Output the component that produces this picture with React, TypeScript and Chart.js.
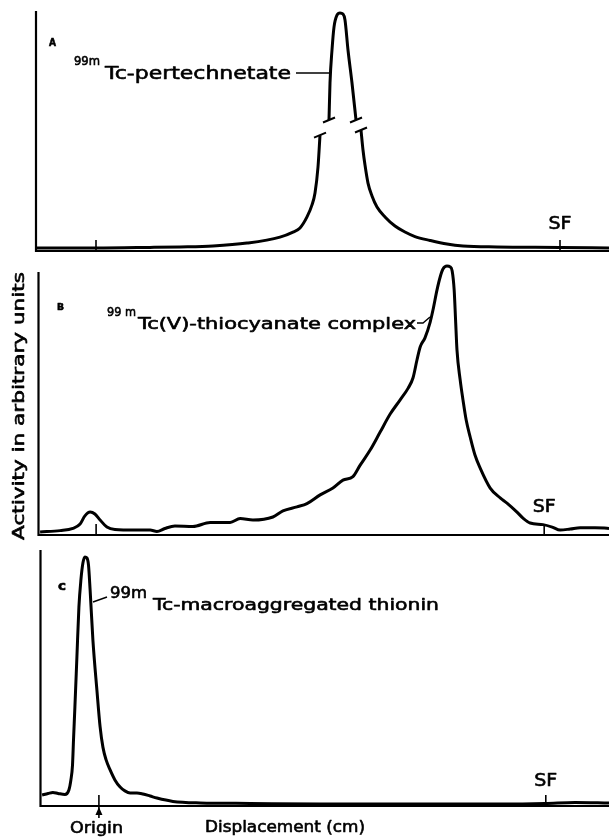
import React, { useEffect, useRef } from "react";
import { Chart, registerables } from "chart.js";

Chart.register(...registerables);

// ---------- DATA (displacement units along strip, activity 0-100 arbitrary) ----------
// Panel A: 99mTc-pertechnetate (null = broken axis gap)
const aX = [0.25, 15, 28.5, 36, 44.25, 52.75, 61, 64.25, 66, 67.75, 69, 69.75, 70.5, 71,
  72,
  73.25, 73.5, 74, 74.5, 75.25, 76, 76.75, 77.25, 78, 79, 80,
  80.6,
  81.25, 81.75, 82.25, 83, 84, 85.25, 87.25, 89.75, 92.25, 94.75, 98.5, 102.75, 106.75, 115.25, 131, 143.25];
const aY = [1.25, 1.25, 1.5, 1.7, 2.1, 3.3, 5.8, 7.9, 9.6, 14.2, 19.2, 24.2, 35, 48.3,
  null,
  54.6, 70, 83.75, 93.3, 98.3, 99.2, 98.75, 96.25, 83.75, 70, 54.6,
  null,
  50.4, 42.1, 35.8, 28.3, 22.9, 18.3, 14.2, 10.4, 7.9, 6, 4.4, 2.9, 2.1, 1.7, 1.5, 1.25];
const aBreaks = [[71, 48.3], [73.25, 54.6], [80, 54.6], [81.25, 50.4]];
const aOrigin = 15;
const aSF = 131;

// Panel B: 99mTc(V)-thiocyanate complex
const bX = [0.4, 5.4, 8.6, 10.4, 11.6, 12.9, 14.1, 15.4, 17.1, 19.1, 24.1, 27.9, 29.6, 31.6, 34.1, 38.6,
  42.9, 47.9, 50.4, 53.6, 58.6, 61.1, 64.6, 67.1, 70.4, 73.6, 76.1, 78.6, 80.4, 82.9, 85.4, 87.9,
  90.4, 92.4, 93.6, 94.6, 95.4, 96.6, 97.9, 98.6, 99.6, 100.4, 101.1, 102.1, 102.9, 103.4, 103.9,
  104.25, 104.6, 105.4, 106.1, 106.9, 107.9, 109.1, 110.4, 112.9, 115.4, 117.1, 119.6, 121.1,
  122.9, 126.1, 128.4, 130.4, 132.9, 135.4, 139.1, 142.6];
const bY = [1.1, 1.6, 2.4, 4.0, 7.0, 8.4, 7.7, 5.5, 2.9, 2.0, 1.8, 1.8, 1.3, 2.4, 3.3, 3.1,
  4.6, 4.6, 6.0, 5.5, 6.6, 8.8, 10.3, 11.5, 14.7, 17.2, 20.1, 21.4, 25.6, 31.1, 37.7, 44.3,
  49.5, 53.8, 57.5, 64.1, 68.9, 72.2, 78.0, 82.4, 89.7, 94.5, 97.4, 98.5, 98.2, 96.7, 89.7,
  78.8, 67.8, 56.8, 49.5, 42.1, 35.9, 29.3, 24.5, 17.2, 13.6, 11.7, 8.4, 6.2,
  4.4, 3.8, 2.9, 1.8, 2.2, 2.7, 2.7, 2.4];
const bOrigin = 14.4;
const bSF = 126.4;

// Panel C: 99mTc-macroaggregated thionin
const cX = [0.4, 1.9, 3.1, 4.4, 6.1, 7.1, 7.6, 8.0, 8.25, 8.6, 9.1, 9.6, 10.1, 10.6, 11.1, 11.6, 12.0,
  12.4, 13.1, 14.1, 14.9, 15.6, 16.4, 17.4, 18.6, 19.9, 21.1, 22.4, 24.1, 25.6, 27.4, 29.1, 33.1,
  39.9, 52.4, 69.9, 94.9, 114.9, 126.1, 133.6, 142.1];
const cY = [4.3, 4.9, 5.3, 4.9, 4.5, 6.25, 10.2, 16.0, 25.8, 38.7, 58.2, 77.7, 88.3, 94.9, 97.3, 96.9, 94.1,
  84.4, 64.8, 45.3, 30.9, 23.0, 18.0, 14.1, 10.2, 7.4, 5.9, 5.1, 5.1, 4.7, 3.9, 3.1, 1.8,
  1.2, 1.0, 0.8, 0.8, 0.8, 1.0, 1.4, 1.2];
const cOrigin = 14.6;
const cSF = 126.3;

// ---------- LAYOUT / STYLE ----------
const W = 609;
const H = 838;
const FONT = '"DejaVu Sans", "Liberation Sans", sans-serif';

type Label = { text: string; x: number; y: number; w: number; size: number; bold?: boolean; center?: boolean; rot?: boolean };

function fitText(ctx: CanvasRenderingContext2D, l: Label) {
  ctx.save();
  ctx.font = `${l.bold ? "bold " : ""}${l.size}px ${FONT}`;
  ctx.textBaseline = "middle";
  ctx.textAlign = "left";
  ctx.fillStyle = "#000";
  ctx.strokeStyle = "#000";
  ctx.lineWidth = 0.6;
  ctx.lineJoin = "round";
  const m = ctx.measureText(l.text).width;
  const s = l.w / m;
  if (l.rot) {
    ctx.translate(l.x, l.y);
    ctx.rotate(-Math.PI / 2);
    ctx.scale(s, 1);
    ctx.fillText(l.text, -m / 2, 0);
    ctx.strokeText(l.text, -m / 2, 0);
  } else {
    const left = l.center ? l.x - l.w / 2 : l.x;
    ctx.translate(left, l.y);
    ctx.scale(s, 1);
    ctx.fillText(l.text, 0, 0);
    ctx.strokeText(l.text, 0, 0);
  }
  ctx.restore();
}

type Panel = {
  x: number[];
  y: (number | null)[];
  xMax: number;
  axisTop: number;
  pad: { left: number; top: number; right: number; bottom: number };
  origin: number;
  originArrow?: boolean;
  sf: number;
  sfLabelY: number;
  breaks?: number[][];
  labels: Label[];
  leader: number[][];
};

const panels: Panel[] = [
  {
    x: aX, y: aY, xMax: 143.25, axisTop: 100,
    pad: { left: 36, top: 11, right: 0, bottom: H - 251 },
    origin: aOrigin, sf: aSF, sfLabelY: 225, breaks: aBreaks,
    labels: [
      { text: "A", x: 49, y: 43, w: 7, size: 10, bold: true },
      { text: "99m", x: 74, y: 62, w: 26, size: 12 },
      { text: "Tc-pertechnetate", x: 105, y: 74, w: 186, size: 18 },
    ],
    leader: [[296, 73], [330, 73]],
  },
  {
    x: bX, y: bY, xMax: 142.6, axisTop: 96.3,
    pad: { left: 38.5, top: 262, right: 0, bottom: H - 535 },
    origin: bOrigin, sf: bSF, sfLabelY: 508,
    labels: [
      { text: "B", x: 57, y: 308, w: 7, size: 9, bold: true },
      { text: "99 m", x: 107, y: 313, w: 29, size: 13 },
      { text: "Tc(V)-thiocyanate complex", x: 138, y: 325, w: 278, size: 16 },
      { text: "Activity in arbitrary units", x: 20, y: 406, w: 268, size: 16, rot: true },
    ],
    leader: [[417, 323], [423, 323], [430, 317]],
  },
  {
    x: cX, y: cY, xMax: 142.1, axisTop: 100,
    pad: { left: 40.5, top: 550, right: 0, bottom: H - 806 },
    origin: cOrigin, originArrow: true, sf: cSF, sfLabelY: 782,
    labels: [
      { text: "c", x: 58, y: 587, w: 8, size: 13, bold: true },
      { text: "99m", x: 110, y: 594, w: 37, size: 15 },
      { text: "Tc-macroaggregated thionin", x: 153, y: 606, w: 286, size: 16 },
      { text: "Origin", x: 70, y: 829, w: 53, size: 16 },
      { text: "Displacement (cm)", x: 205, y: 828, w: 160, size: 16 },
    ],
    leader: [[93, 602], [107, 597]],
  },
];

function makeDecor(p: Panel) {
  return {
    id: "decor",
    beforeDatasetsDraw(chart: any) {
      const { ctx, chartArea } = chart;
      const ys = chart.scales.y;
      const y0 = ys.getPixelForValue(0);
      ctx.save();
      ctx.strokeStyle = "#000";
      ctx.lineWidth = 2.2;
      ctx.beginPath();
      ctx.moveTo(chartArea.left, ys.getPixelForValue(p.axisTop));
      ctx.lineTo(chartArea.left, y0);
      ctx.lineTo(chartArea.right, y0);
      ctx.stroke();
      ctx.restore();
    },
    afterDatasetsDraw(chart: any) {
      const { ctx } = chart;
      const xs = chart.scales.x;
      const ys = chart.scales.y;
      const y0 = ys.getPixelForValue(0);
      ctx.save();
      ctx.strokeStyle = "#000";
      ctx.fillStyle = "#000";
      // origin tick
      const ox = xs.getPixelForValue(p.origin);
      ctx.lineWidth = 1.6;
      ctx.beginPath();
      ctx.moveTo(ox, y0 - 11);
      ctx.lineTo(ox, p.originArrow ? y0 + 12 : y0);
      ctx.stroke();
      if (p.originArrow) {
        ctx.beginPath();
        ctx.moveTo(ox, y0 + 1);
        ctx.lineTo(ox - 3.5, y0 + 9);
        ctx.lineTo(ox + 3.5, y0 + 9);
        ctx.closePath();
        ctx.fill();
      }
      // SF tick
      const sx = xs.getPixelForValue(p.sf);
      ctx.beginPath();
      ctx.moveTo(sx, y0 - 11);
      ctx.lineTo(sx, y0);
      ctx.stroke();
      fitText(ctx, { text: "SF", x: sx, y: p.sfLabelY, w: 23, size: 17, center: true });
      // break marks
      if (p.breaks) {
        ctx.lineWidth = 2;
        for (const [bx, by] of p.breaks) {
          const px = xs.getPixelForValue(bx);
          const py = ys.getPixelForValue(by);
          ctx.beginPath();
          ctx.moveTo(px - 6, py + 2.5);
          ctx.lineTo(px + 6, py - 2.5);
          ctx.stroke();
        }
      }
      // leader line
      ctx.lineWidth = 1.4;
      ctx.beginPath();
      p.leader.forEach(([lx, ly], i) => (i === 0 ? ctx.moveTo(lx, ly) : ctx.lineTo(lx, ly)));
      ctx.stroke();
      // labels
      for (const l of p.labels) fitText(ctx, l);
      ctx.restore();
    },
  };
}

function PanelChart({ p }: { p: Panel }) {
  const ref = useRef<HTMLCanvasElement | null>(null);
  useEffect(() => {
    if (!ref.current) return;
    const chart = new Chart(ref.current, {
      type: "line",
      data: {
        datasets: [
          {
            data: p.x.map((x, i) => ({ x, y: p.y[i] })) as any,
            borderColor: "#000",
            borderWidth: 3,
            pointRadius: 0,
            fill: false,
            spanGaps: false,
            cubicInterpolationMode: "monotone",
            clip: false as any,
          },
        ],
      },
      options: {
        animation: false,
        responsive: false,
        devicePixelRatio: 1,
        events: [],
        layout: { padding: p.pad },
        plugins: { legend: { display: false }, tooltip: { enabled: false } },
        scales: {
          x: { type: "linear", display: false, min: 0, max: p.xMax },
          y: { type: "linear", display: false, min: 0, max: 100 },
        },
      },
      plugins: [makeDecor(p)],
    });
    return () => chart.destroy();
  }, [p]);
  return (
    <canvas
      ref={ref}
      width={W}
      height={H}
      style={{ position: "absolute", left: 0, top: 0, width: W, height: H }}
    />
  );
}

export default function App() {
  return (
    <div style={{ position: "absolute", left: 0, top: 0, width: W, height: H, background: "#fff", overflow: "hidden" }}>
      {panels.map((p, i) => (
        <PanelChart key={i} p={p} />
      ))}
    </div>
  );
}
